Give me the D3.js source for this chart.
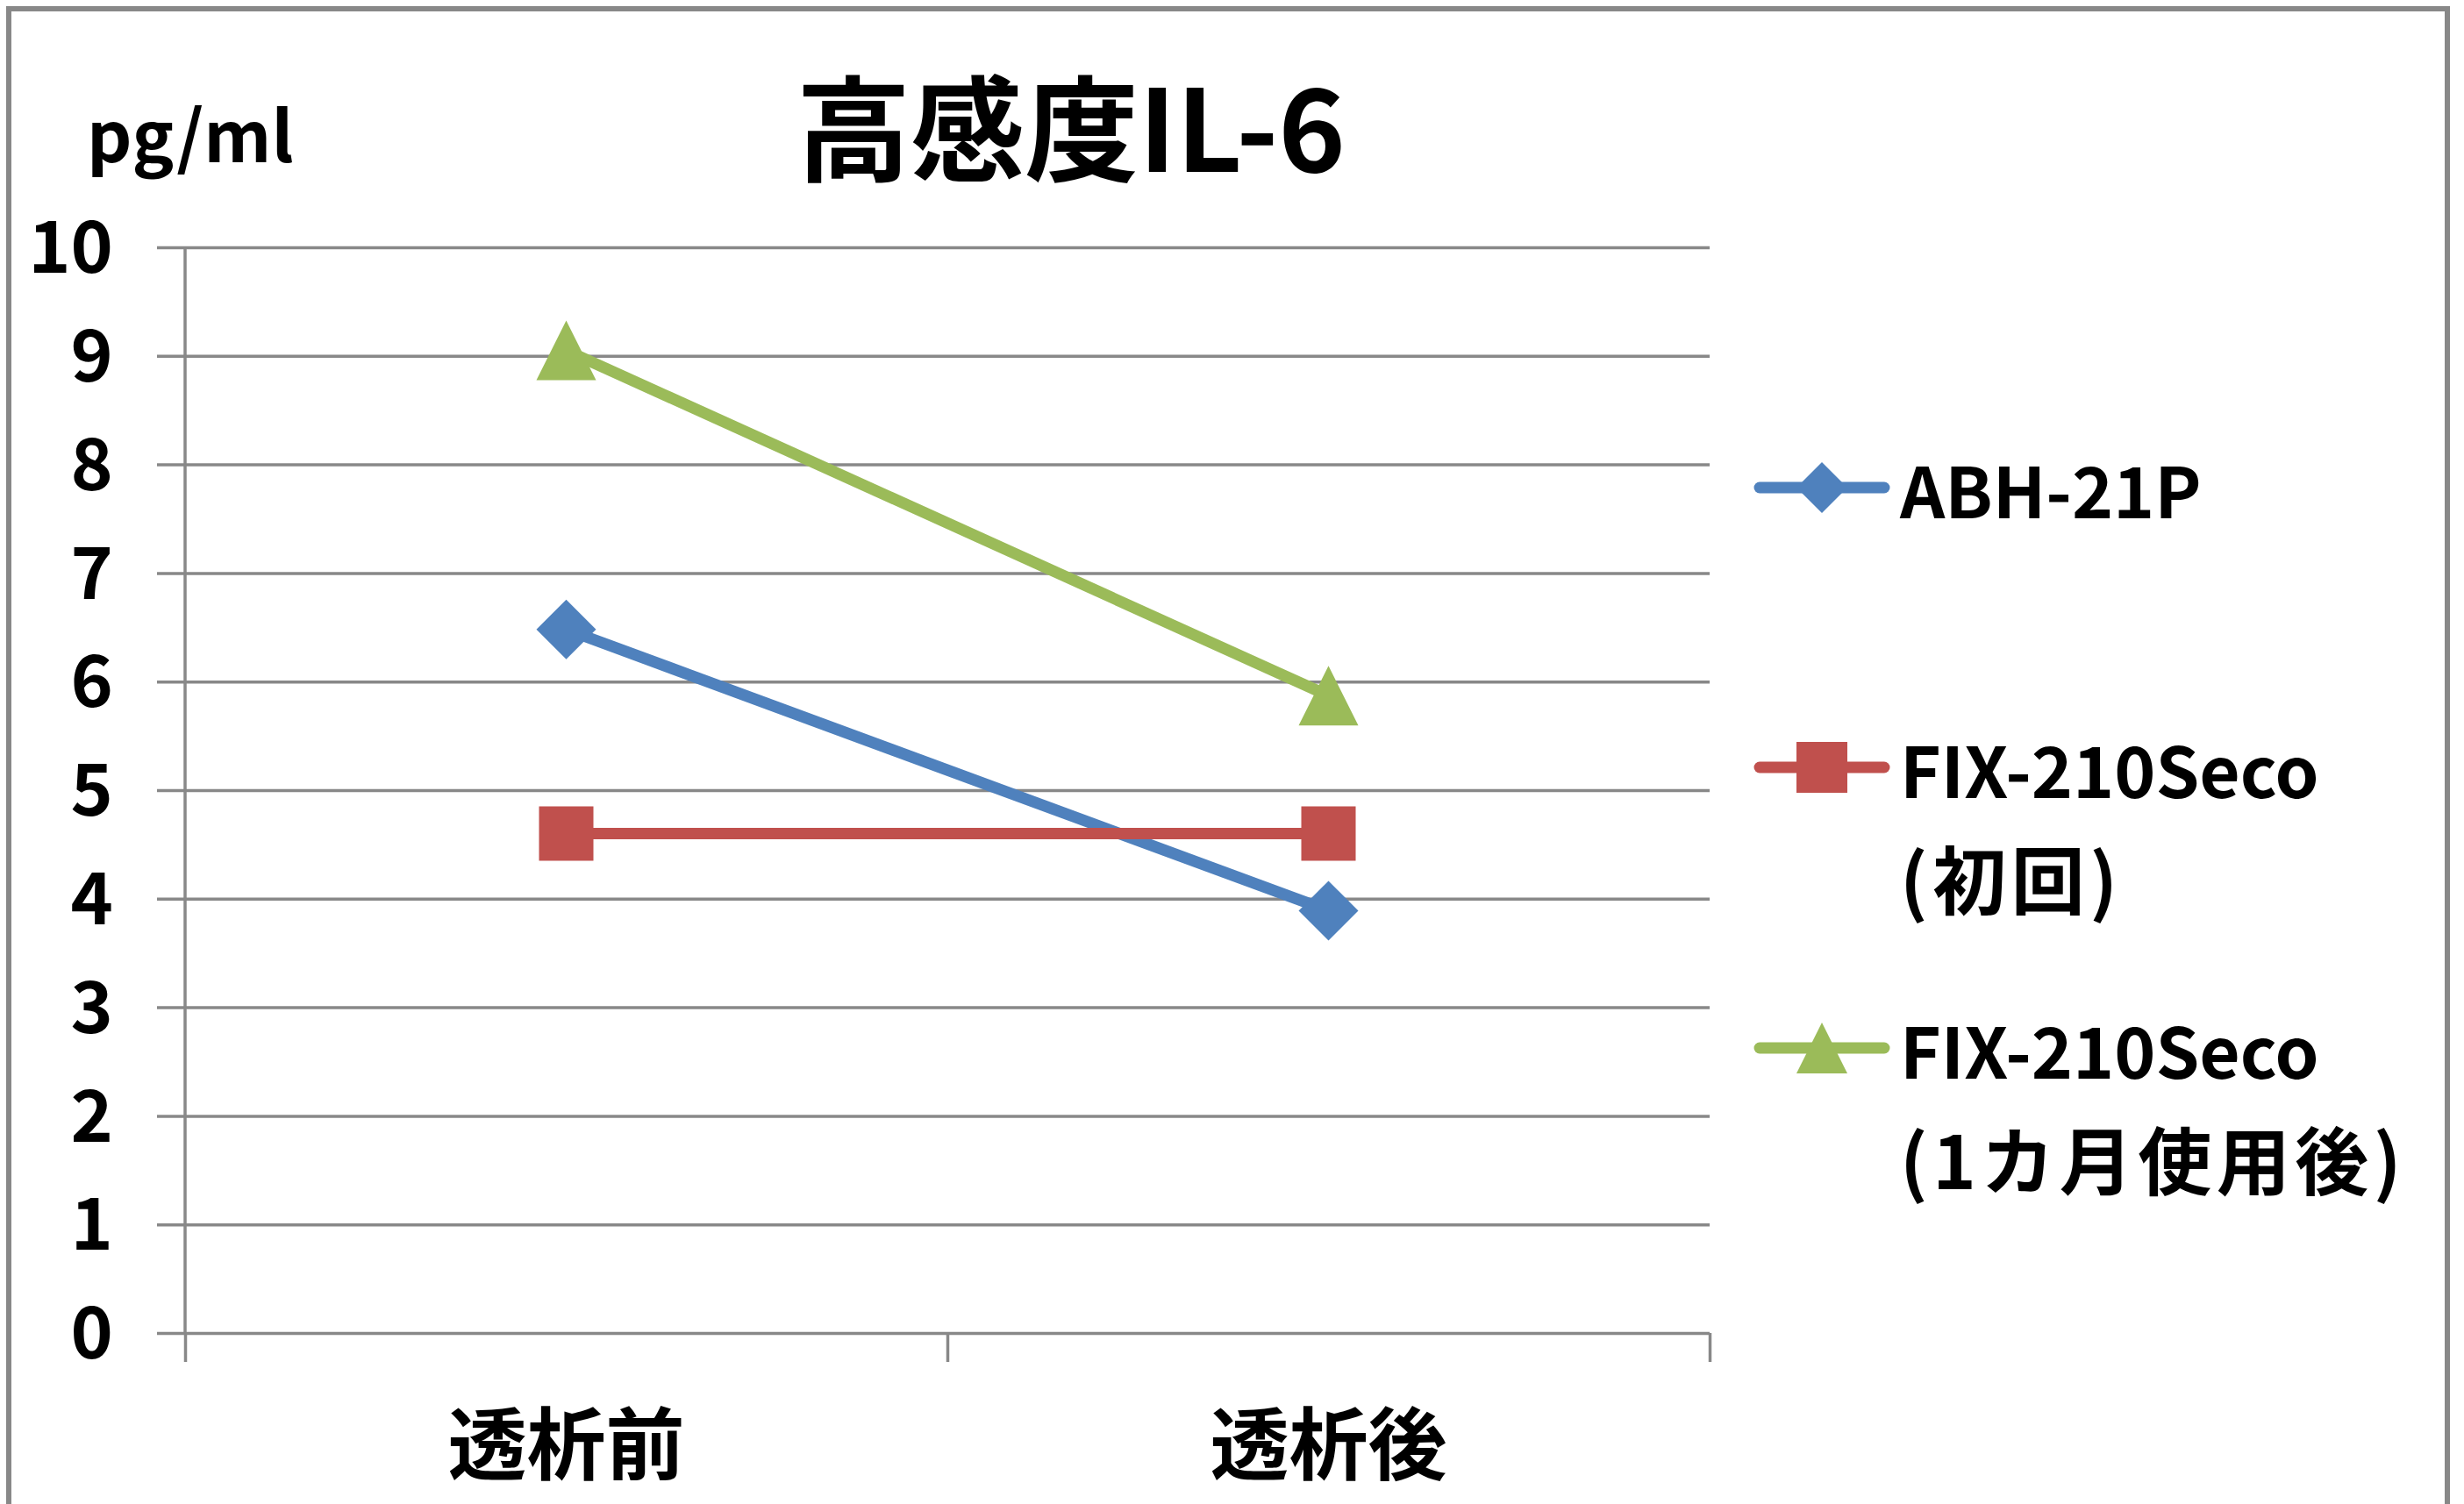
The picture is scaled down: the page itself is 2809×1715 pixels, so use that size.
<!DOCTYPE html>
<html>
<head>
<meta charset="utf-8">
<script src="https://cdn.jsdelivr.net/npm/d3@7/dist/d3.min.js"></script>
<style>
  body { margin: 0; background: #fff; }
  svg text { font-family: "Noto Sans CJK JP", "Noto Sans", sans-serif; font-weight: 700; fill: #000; }
</style>
</head>
<body>
<svg id="chart"></svg>
<script>
// datos
const categories = ["透析前", "透析後"]
const abh21p = [6.48, 3.89]
const fixFirst = [4.6, 4.6]
const fixMonth = [9.05, 5.87]
const yTicks = [0, 1, 2, 3, 4, 5, 6, 7, 8, 9, 10]
const seriesNames = ["ABH-21P", "FIX-210Seco (初回)", "FIX-210Seco (1カ月使用後)"]
const legendLines = [["ABH-21P"], ["FIX-210Seco", "(初回)"], ["FIX-210Seco", "(1カ月使用後)"]]

const width = 2809, height = 1715
const plotLeft = 211, plotRight = 1949, plotTop = 282, plotBottom = 1520
const grid = "#888888"

const svg = d3.select('#chart')
    .attr('width', width)
    .attr('height', height)

// marco exterior
svg.append('rect')
    .attr('x', 10).attr('y', 10)
    .attr('width', 2780).attr('height', 1800)
    .attr('fill', '#fff')
    .attr('stroke', grid)
    .attr('stroke-width', 6)

const x = d3.scaleBand().domain(categories).range([plotLeft, plotRight])
const xEdge = d3.scaleLinear().domain([0, categories.length]).range([plotLeft, plotRight])
const y = d3.scaleLinear().domain([0, 10]).range([plotBottom, plotTop])

// líneas de grilla + etiquetas del eje y
const yAxis = svg.append('g')
    .attr('transform', `translate(${plotRight}, 0)`)
    .call(d3.axisLeft(y).tickValues(yTicks).tickSize(plotRight - 179).tickPadding(50))
yAxis.select('.domain').remove()
yAxis.selectAll('line').attr('stroke', grid).attr('stroke-width', 3.5)
yAxis.selectAll('text')
    .attr('font-size', 82)
    .attr('dy', '0.35em')

// eje y vertical
svg.append('line')
    .attr('x1', plotLeft).attr('x2', plotLeft)
    .attr('y1', plotTop).attr('y2', plotBottom)
    .attr('stroke', grid).attr('stroke-width', 3.5)

// eje x, marcas en los bordes de las categorías
const xAxis = svg.append('g')
    .attr('transform', `translate(0, ${plotBottom})`)
    .call(d3.axisBottom(xEdge).tickValues(d3.range(categories.length + 1)).tickSize(33).tickFormat(''))
xAxis.select('.domain').remove()
xAxis.selectAll('line').attr('stroke', grid).attr('stroke-width', 3.5)

svg.append('g')
    .selectAll('text')
    .data(categories)
    .join('text')
    .attr('x', d => x(d) + x.bandwidth() / 2)
    .attr('y', 1641)
    .attr('text-anchor', 'middle')
    .attr('dominant-baseline', 'central')
    .attr('font-size', 90)
    .text(d => d)

// símbolos propios como en Excel
const diamond = { draw(ctx, size) { const r = Math.sqrt(size) / 2
    ctx.moveTo(0, -r); ctx.lineTo(r, 0); ctx.lineTo(0, r); ctx.lineTo(-r, 0); ctx.closePath() } }
const square = { draw(ctx, size) { const r = Math.sqrt(size) / 2
    ctx.moveTo(-r, -r); ctx.lineTo(r, -r); ctx.lineTo(r, r); ctx.lineTo(-r, r); ctx.closePath() } }
const triangle = { draw(ctx, size) { const r = Math.sqrt(size) / 2
    ctx.moveTo(0, -r); ctx.lineTo(r, r); ctx.lineTo(-r, r); ctx.closePath() } }

const series = [
    { name: seriesNames[0], values: abh21p, color: '#4F81BD', shape: diamond, size: 68 * 68 },
    { name: seriesNames[1], values: fixFirst, color: '#C0504D', shape: square, size: 62 * 62 },
    { name: seriesNames[2], values: fixMonth, color: '#9BBB59', shape: triangle, size: 68 * 68 }
]

const cx = i => x(categories[i]) + x.bandwidth() / 2
const line = d3.line().x((d, i) => cx(i)).y(d => y(d))

series.forEach(s => {
    const g = svg.append('g')
    g.append('path')
        .attr('d', line(s.values))
        .attr('fill', 'none')
        .attr('stroke', s.color)
        .attr('stroke-width', 13)
    g.selectAll('path.marker')
        .data(s.values)
        .join('path')
        .attr('class', 'marker')
        .attr('transform', (d, i) => `translate(${cx(i)}, ${y(d)})`)
        .attr('d', d3.symbol().type(s.shape).size(s.size))
        .attr('fill', s.color)
})

// leyenda
const legendY = [556, 875, 1195]
const legend = svg.append('g')
series.forEach((s, i) => {
    const g = legend.append('g').attr('transform', `translate(0, ${legendY[i]})`)
    g.append('line')
        .attr('x1', 2006).attr('x2', 2148)
        .attr('stroke', s.color).attr('stroke-width', 13)
        .attr('stroke-linecap', 'round')
    g.append('path')
        .attr('transform', 'translate(2077, 0)')
        .attr('d', d3.symbol().type(s.shape).size(58 * 58))
        .attr('fill', s.color)
    g.selectAll('text')
        .data(legendLines[i])
        .join('text')
        .attr('x', 2166)
        .attr('y', (d, j) => j * 124)
        .attr('dominant-baseline', 'central')
        .attr('font-size', (d, j) => j === 0 ? 80 : 84)
        .attr('letter-spacing', (d, j) => j === 0 ? 0 : 5.5)
        .text(d => d)
})

// título y unidad
svg.append('text')
    .attr('x', 1221).attr('y', 139)
    .attr('text-anchor', 'middle')
    .attr('dominant-baseline', 'central')
    .attr('font-size', 130)
    .text('高感度IL-6')

svg.append('text')
    .attr('x', 99).attr('y', 150)
    .attr('dominant-baseline', 'central')
    .attr('font-size', 80)
    .text('pg/ml')
</script>
</body>
</html>
